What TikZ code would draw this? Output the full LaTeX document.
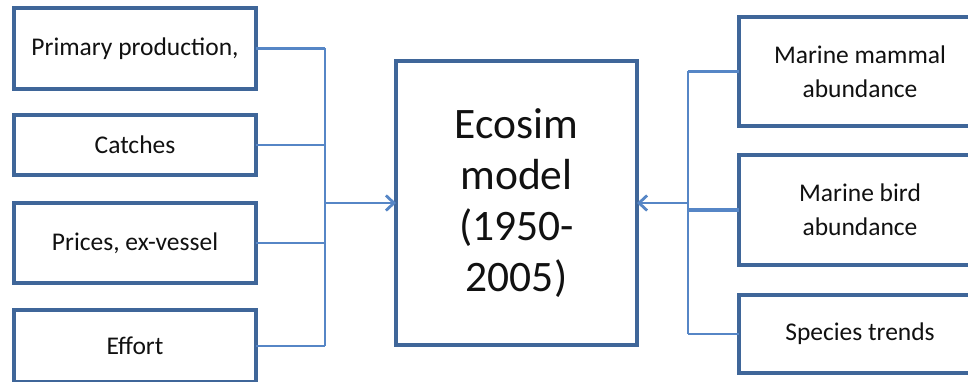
\documentclass[tikz,border=0pt]{standalone}
\usepackage{fontspec}
\setmainfont{Carlito}
\usetikzlibrary{arrows.meta}
\definecolor{boxline}{HTML}{3F6699}
\definecolor{wire}{HTML}{5686C6}
\definecolor{ink}{HTML}{111111}
\begin{document}
\begin{tikzpicture}[x=1pt,y=1pt,
  card/.style={draw=boxline, line width=3.2pt, fill=white, minimum width=242pt,
    inner sep=0pt, outer sep=0pt, text=ink, align=center,
    font=\fontsize{25.5}{34}\selectfont},
  core/.style={card, minimum width=241pt, minimum height=284pt,
    font=\fontsize{43.5}{51}\selectfont},
  link/.style={draw=wire, line width=2.8pt},
  feed/.style={link, -{Straight Barb[length=8pt,width=15pt,line width=2.8pt]}}]
\useasboundingbox (0,0) rectangle (968,381);
\clip (0,0) rectangle (968,381);
\fill[white] (0,0) rectangle (968,381);

% driver inputs on the left
\node[card, minimum height=81pt] (prim) at (135,332.5) {Primary production,};
\node[card, minimum height=60pt] (catch) at (135,236) {Catches};
\node[card, minimum height=80pt] (price) at (135,138) {Prices, ex-vessel};
\node[card, minimum height=72pt] (effort) at (135,35) {Effort};

% the model
\node[core] (eco) at (516.5,178) {Ecosim\\model\\(1950-\\2005)};

% observed series on the right
\node[card, minimum height=109pt] (mam) at (860,309.5) {Marine mammal\\abundance};
\node[card, minimum height=110pt] (bird) at (860,171) {Marine bird\\abundance};
\node[card, minimum height=78pt] (trend) at (860,47) {Species trends};

% collector bars
\coordinate (lbus) at (325,0);
\coordinate (rbus) at (688,0);

\draw[link] (prim.east) -- (prim.east -| lbus);
\draw[link] (catch.east) -- (catch.east -| lbus);
\draw[link] (price.east) -- (price.east -| lbus);
\draw[link] (effort.east) -- (effort.east -| lbus);
\draw[link] (prim.east -| lbus) -- (effort.east -| lbus);
\draw[feed] (eco.west -| lbus) -- (eco.west);

\draw[link] (mam.west) -- (mam.west -| rbus);
\draw[link, line width=4pt] (bird.west) -- (bird.west -| rbus);
\draw[link] (trend.west) -- (trend.west -| rbus);
\draw[link] (mam.west -| rbus) -- (trend.west -| rbus);
\draw[feed] (eco.east -| rbus) -- (eco.east);
\end{tikzpicture}
\end{document}
